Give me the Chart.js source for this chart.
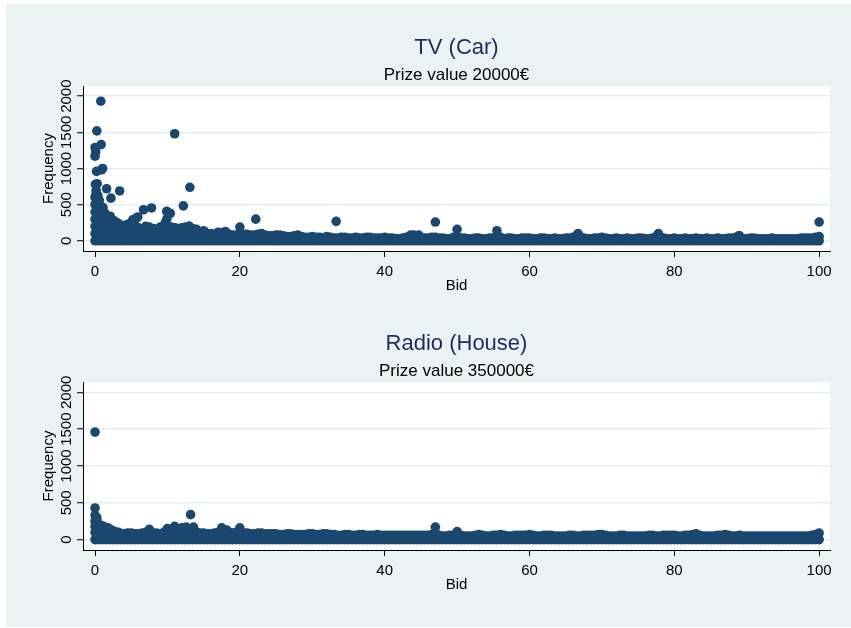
<!DOCTYPE html>
<html>
<head>
<meta charset="utf-8">
<script src="https://cdn.jsdelivr.net/npm/chart.js@4/dist/chart.umd.min.js"></script>
<style>
  html, body { margin: 0; padding: 0; background: #ffffff; width: 851px; height: 628px; overflow: hidden; }
  #bg { position: absolute; left: 6px; top: 4px; width: 845px; height: 623px; background: #EAF2F3; }
  canvas { position: absolute; left: 6px; }
  #c1 { top: 4px; }
  #c2 { top: 300px; }
</style>
</head>
<body>
<div id="bg"></div>
<canvas id="c1" width="845" height="296"></canvas>
<canvas id="c2" width="845" height="300"></canvas>
<script>
// ---------- data ----------
const xTicks = [0, 20, 40, 60, 80, 100];
const yTicks = [0, 500, 1000, 1500, 2000];

const panelTitles = ["TV (Car)", "Radio (House)"];
const panelSubtitles = ["Prize value 20000€", "Prize value 350000€"];

// lowest frequency of the dense band
const bandFloor = 1;
const bandBid = [0,1,2,3,4,5,6,7,8,9,10,11,12,13,14,15,16,17,18,19,20,
  21,22,23,24,25,26,27,28,29,30,31,32,33,34,35,36,37,38,39,40,
  41,42,43,44,45,46,47,48,49,50,51,52,53,54,55,56,57,58,59,60,
  61,62,63,64,65,66,67,68,69,70,71,72,73,74,75,76,77,78,79,80,
  81,82,83,84,85,86,87,88,89,90,91,92,93,94,95,96,97,98,99,100];
const halfBid = [0.5,1.5,2.5,3.5,4.5,5.5,6.5,7.5,8.5,9.5,10.5,11.5,12.5,13.5,14.5,15.5,16.5,17.5,18.5,19.5,
  20.5,21.5,22.5,23.5,24.5,25.5,26.5,27.5,28.5,29.5,30.5,31.5,32.5,33.5,34.5,35.5,36.5,37.5,38.5,39.5,
  40.5,41.5,42.5,43.5,44.5,45.5,46.5,47.5,48.5,49.5,50.5,51.5,52.5,53.5,54.5,55.5,56.5,57.5,58.5,59.5,
  60.5,61.5,62.5,63.5,64.5,65.5,66.5,67.5,68.5,69.5,70.5,71.5,72.5,73.5,74.5,75.5,76.5,77.5,78.5,79.5,
  80.5,81.5,82.5,83.5,84.5,85.5,86.5,87.5,88.5,89.5,90.5,91.5,92.5,93.5,94.5,95.5,96.5,97.5,98.5,99.5];

// TV (Car): top of the dense band
const tvBandTop = [100,100,100,100,100,100,100,100,100,100,100,100,100,100,100,90,100,90,110,80,100,
  90,80,100,70,80,70,60,80,50,60,50,60,40,50,40,50,40,50,40,50,
  40,30,50,80,50,40,50,40,30,60,40,30,40,30,40,50,40,30,40,40,
  30,40,30,30,40,50,60,30,40,50,30,40,30,30,40,30,40,60,30,40,
  30,30,40,30,30,40,30,40,70,30,40,30,30,30,30,30,30,40,40,60];
const tvHalfTop = [100,100,100,100,100,100,100,100,100,100,100,100,100,100,90,100,90,110,90,80,
  90,80,90,80,70,80,60,70,60,50,50,40,50,40,50,40,40,50,40,40,
  40,30,40,70,60,40,50,40,30,50,40,30,40,30,40,50,30,40,30,40,
  30,40,30,40,30,40,70,40,30,40,40,30,30,40,30,40,30,60,40,30,
  30,40,30,30,40,30,30,40,50,30,40,30,30,40,30,30,30,40,40,50];

// TV (Car): other visible points
const tvBid = [0,0,0,0,0,0.1,0.05,0.3,0.2,0,0.1,0,0.25,0.8,0.85,1.05,0.9,
  0.5,0.5,0.5,0.5,0.6,0.4,1,1,1,1.1,1.5,1.5,1.4,1.6,2,2,2.1,2.2,2.5,2.6,3,3.1,3.4,
  0.25,0.25,0.25,0.75,0.75,0.75,1.25,1.25,1.75,0.15,
  1.5,2,2.5,3,3.5,4,4.5,5,5.5,6,6.5,7,7.5,8,8.5,9,9.5,10,10.5,11,11.5,12,12.5,13,13.5,
  1.5,2,2.5,3,3.5,4,4.5,5,5.5,6,6.5,7,7.5,8,8.5,9,9.5,10,10.5,11,11.5,12,12.5,13,13.5,14,15,17,18,
  3.7,4,4.5,5.2,5.6,5.9,5,6,6.7,7,7.8,8,9,9.9,9.9,9.7,10,10.4,11,11,12,12.2,13,13.1,14,
  20,22.2,33.3,43.6,44.7,47,50,55.5,66.7,77.8,88.9,100];
const tvFreq = [200,300,400,500,600,640,780,790,960,1170,1230,1290,1520,1930,1330,1000,980,
  200,300,400,500,560,620,200,300,400,460,200,300,380,720,200,300,340,590,200,280,200,250,690,
  300,450,650,250,350,450,250,350,250,700,
  150,150,150,150,150,150,150,150,150,150,150,150,150,150,150,150,150,150,150,150,150,150,150,150,150,
  250,250,220,230,220,200,200,210,220,180,170,200,190,170,160,190,180,200,190,180,170,180,190,200,170,160,140,120,130,
  210,190,230,290,310,330,180,150,430,190,455,150,170,300,407,250,200,380,180,1480,170,484,200,740,150,
  190,300,270,80,80,260,160,140,100,100,70,260];

// Radio (House): top of the dense band
const radioBandTop = [100,100,100,90,80,90,80,100,90,80,110,110,110,100,100,90,80,100,110,90,110,
  90,80,90,80,80,70,80,70,70,80,70,80,70,60,70,60,70,60,70,60,
  60,60,60,60,60,60,90,50,60,70,50,50,70,50,60,70,50,60,60,70,
  50,60,60,50,50,60,50,60,60,70,50,50,60,50,50,50,60,50,60,60,
  50,60,80,50,50,60,70,50,60,50,50,50,50,50,50,50,50,50,60,90];
const radioHalfTop = [100,100,90,80,90,80,90,100,90,100,110,120,110,100,90,80,90,110,100,100,
  90,80,90,80,80,70,80,70,70,80,70,80,70,60,70,60,70,60,60,60,
  60,60,60,60,60,60,70,60,50,60,60,50,60,60,50,60,60,50,60,60,
  60,50,60,50,50,60,50,60,60,70,60,50,60,50,50,50,60,50,60,60,
  50,60,70,60,50,50,60,60,50,50,50,50,50,50,50,50,50,50,50,70];

// Radio (House): other visible points
const radioBid = [0,0,0,0,0,0.3,0.6,1,1.3,1.8,2.3,0.25,0.25,0.25,0.75,1.25,2.75,3.25,
  7.5,10,11,12,12.6,13.2,13.6,17.5,18.2,20,47,50];
const radioFreq = [1460,430,330,250,180,250,200,190,170,160,130,100,200,300,150,140,110,100,
  140,150,180,160,170,340,170,160,130,160,170,110];

// ---------- styling ----------
const NAVY = '#1A476F';
const FONT = "'Liberation Sans', Arial, Helvetica, sans-serif";

function buildPoints(bandTop, halfTop, bids, freqs) {
  const pts = [];
  for (let i = 0; i < bandBid.length; i++) {
    pts.push({x: bandBid[i], y: bandFloor});
    pts.push({x: bandBid[i], y: bandTop[i]});
  }
  for (let i = 0; i < halfBid.length; i++) {
    pts.push({x: halfBid[i], y: bandFloor});
    pts.push({x: halfBid[i], y: halfTop[i]});
  }
  for (let i = 0; i < bids.length; i++) pts.push({x: bids[i], y: freqs[i]});
  return pts;
}

const plotBg = {
  id: 'plotBg',
  beforeDraw(chart) {
    const a = chart.chartArea, ctx = chart.ctx;
    ctx.save();
    ctx.fillStyle = '#ffffff';
    ctx.fillRect(a.left, a.top, a.right - a.left, a.bottom - a.top);
    ctx.restore();
  }
};

function makeChart(id, idx, points, bottomPad) {
  return new Chart(document.getElementById(id), {
    type: 'scatter',
    data: { datasets: [{
      data: points,
      pointRadius: 4.8,
      pointHoverRadius: 4.8,
      pointBorderWidth: 0,
      pointBackgroundColor: NAVY,
      pointBorderColor: NAVY
    }]},
    plugins: [plotBg],
    options: {
      responsive: false,
      animation: false,
      events: [],
      layout: { padding: { left: 0, right: 21, top: 0, bottom: bottomPad } },
      plugins: {
        legend: { display: false },
        tooltip: { enabled: false },
        title: {
          display: true, text: panelTitles[idx], fullSize: false,
          color: '#1e2d5a', font: { family: FONT, size: 22, weight: 'normal' },
          padding: { top: 30.8, bottom: 0 }
        },
        subtitle: {
          display: true, text: panelSubtitles[idx], fullSize: false,
          color: '#000000', font: { family: FONT, size: 17, weight: 'normal' },
          padding: { top: 3.6, bottom: 0.8 }
        }
      },
      scales: {
        x: {
          type: 'linear', position: 'bottom', min: -1.66, max: 101.5,
          afterBuildTicks: (s) => { s.ticks = xTicks.map(v => ({ value: v })); },
          afterFit: (s) => { s.height = 45; },
          grid: { display: true, drawOnChartArea: false, drawTicks: true, tickLength: 6,
                  tickColor: '#000000', tickWidth: 1 },
          border: { display: true, color: '#000000', width: 1 },
          ticks: { color: '#000000', padding: 6, font: { family: FONT, size: 15 },
                   autoSkip: false, maxRotation: 0, callback: (v) => String(v) },
          title: { display: true, text: 'Bid', color: '#000000',
                   font: { family: FONT, size: 15 }, padding: { top: 0, bottom: 1 } }
        },
        y: {
          type: 'linear', position: 'left', min: -140, max: 2140,
          afterBuildTicks: (s) => { s.ticks = yTicks.map(v => ({ value: v })); },
          afterFit: (s) => { s.width = 77; },
          grid: { display: true, drawOnChartArea: true, drawTicks: true, tickLength: 6,
                  color: '#E4EDF0', lineWidth: 1.5, tickColor: '#000000', tickWidth: 1 },
          border: { display: true, color: '#000000', width: 1 },
          ticks: { color: '#000000', padding: -7, crossAlign: 'center', minRotation: 90, maxRotation: 90,
                   autoSkip: false, font: { family: FONT, size: 15 }, callback: (v) => String(v) },
          title: { display: true, text: 'Frequency', color: '#000000',
                   font: { family: FONT, size: 15 }, padding: { top: 34, bottom: 0 } }
        }
      }
    }
  });
}

makeChart('c1', 0, buildPoints(tvBandTop, tvHalfTop, tvBid, tvFreq), 4);
makeChart('c2', 1, buildPoints(radioBandTop, radioHalfTop, radioBid, radioFreq), 5);
</script>
</body>
</html>
